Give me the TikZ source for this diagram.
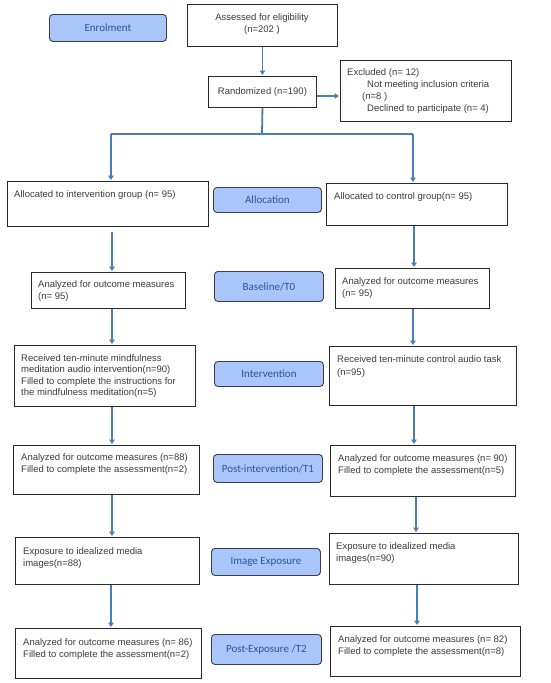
\documentclass[tikz,border=0pt]{standalone}
\usepackage{fontspec}
\setmainfont{Liberation Sans}
\newfontfamily\stagefont{Carlito}
\usetikzlibrary{arrows.meta,calc}
\definecolor{textgray}{RGB}{60,60,60}
\definecolor{boxline}{RGB}{40,40,40}
\definecolor{stagefill}{RGB}{168,198,250}
\definecolor{stageline}{RGB}{60,62,75}
\definecolor{stagetext}{RGB}{47,84,150}
\definecolor{arrowblue}{RGB}{74,126,187}
\tikzset{
  box/.style={draw=boxline, line width=0.9pt, fill=white, anchor=north west, inner sep=0pt},
  stage/.style={draw=stageline, line width=0.9pt, fill=stagefill, rounded corners=3.5pt, anchor=north west, inner sep=0pt,
    font=\stagefont\fontsize{11}{13}\selectfont, text=stagetext},
  txt/.style={anchor=north west, inner sep=0pt, align=left, font=\fontsize{9.5}{11.7}\selectfont, text=textgray},
  ln/.style={draw=arrowblue, line width=1.8pt},
  arr/.style={ln, -{Triangle[width=5.5pt,length=4.5pt]}, shorten >=1pt},
}
\begin{document}
\begin{tikzpicture}[x=1pt,y=-1pt]
\useasboundingbox[fill=white] (0,0) rectangle (550,683);

% ---- top part
\node[stage, minimum width=117pt, minimum height=27pt] (enrol) at (49,14) {Enrolment};
\node[box, minimum width=150pt, minimum height=42pt] (assess) at (187,4) {};
\node[txt, anchor=north, align=center] (assess-t) at (262,13.5) {Assessed for eligibility\\(n=202 )};
\node[box, minimum width=108pt, minimum height=31pt, font=\fontsize{9.5}{11.7}\selectfont, text=textgray] (rand) at (208,76) {Randomized (n=190)};
\node[box, minimum width=171pt, minimum height=61pt] (excl) at (340,60) {};
\node[txt, font=\fontsize{9.5}{11.9}\selectfont] (excl-t) at (347,68.5) {Excluded (n= 12)\\
\hspace*{20pt}Not meeting inclusion criteria\\
\hspace*{15pt}(n=8 )\\
\hspace*{20pt}Declined to participate (n= 4)};

% ---- allocation
\node[box, minimum width=201pt, minimum height=45pt] (allocI) at (7,181) {};
\node[txt] (allocI-t) at (14,190.5) {Allocated to intervention group (n= 95)};
\node[stage, minimum width=108pt, minimum height=25pt] (allocS) at (213,187) {Allocation};
\node[box, minimum width=181pt, minimum height=42pt] (allocC) at (326,183) {};
\node[txt] (allocC-t) at (334,192.5) {Allocated to control group(n= 95)};

% ---- baseline
\node[box, minimum width=154pt, minimum height=36pt] (baseI) at (31,272) {};
\node[txt] (baseI-t) at (38,280.5) {Analyzed for outcome measures\\(n= 95)};
\node[stage, minimum width=109pt, minimum height=30pt] (baseS) at (214,271) {Baseline/T0};
\node[box, minimum width=154pt, minimum height=40pt] (baseC) at (335,268) {};
\node[txt] (baseC-t) at (342,277.5) {Analyzed for outcome measures\\(n= 95)};

% ---- intervention
\node[box, minimum width=181pt, minimum height=61pt] (intI) at (14,345) {};
\node[txt, font=\fontsize{9.5}{11.4}\selectfont] (intI-t) at (21,354.5) {Received ten-minute mindfulness\\meditation audio intervention(n=90)\\Filled to complete the instructions for\\the mindfulness meditation(n=5)};
\node[stage, minimum width=109pt, minimum height=25pt] (intS) at (214,361) {Intervention};
\node[box, minimum width=187pt, minimum height=59pt] (intC) at (329,346) {};
\node[txt, font=\fontsize{9.5}{12.6}\selectfont] (intC-t) at (337,355.5) {Received ten-minute control audio task\\(n=95)};

% ---- post-intervention
\node[box, minimum width=186pt, minimum height=49pt] (t1I) at (13,445) {};
\node[txt] (t1I-t) at (21,453.5) {Analyzed for outcome measures (n=88)\\Filled to complete the assessment(n=2)};
\node[stage, minimum width=109pt, minimum height=28pt] (t1S) at (213,454) {Post-intervention/T1};
\node[box, minimum width=185pt, minimum height=51pt] (t1C) at (330,445) {};
\node[txt] (t1C-t) at (338,454.5) {Analyzed for outcome measures (n= 90)\\Filled to complete the assessment(n=5)};

% ---- image exposure
\node[box, minimum width=184pt, minimum height=47pt] (expI) at (15,537) {};
\node[txt] (expI-t) at (23,547.5) {Exposure to idealized media\\images(n=88)};
\node[stage, minimum width=109pt, minimum height=27pt] (expS) at (211,548) {Image Exposure};
\node[box, minimum width=189pt, minimum height=51pt] (expC) at (329,533) {};
\node[txt] (expC-t) at (336,542.5) {Exposure to idealized media\\images(n=90)};

% ---- post-exposure
\node[box, minimum width=186pt, minimum height=50pt] (t2I) at (15,628) {};
\node[txt] (t2I-t) at (23,638.5) {Analyzed for outcome measures (n= 86)\\Filled to complete the assessment(n=2)};
\node[stage, minimum width=110pt, minimum height=30pt] (t2S) at (211,634) {Post-Exposure /T2};
\node[box, minimum width=190pt, minimum height=50pt] (t2C) at (330,626) {};
\node[txt] (t2C-t) at (338,635.5) {Analyzed for outcome measures (n= 82)\\Filled to complete the assessment(n=8)};

% ---- connectors
\coordinate (r96) at (0,96);
\coordinate (split) at (262,134);
\coordinate (sL) at (111,134);
\coordinate (sR) at (413,134);
\coordinate (cL) at (112,0);
\coordinate (cL2) at (111,0);
\coordinate (cR1) at (414,0);
\coordinate (cR2) at (413,0);
\coordinate (cR3) at (416,0);
\coordinate (cR4) at (417,0);

\draw[arr] (assess.south) -- (rand.north);
\draw[arr] (rand.east |- r96) -- (excl.west |- r96);
\draw[ln] (rand.south) -- (split);
\draw[ln] (sL) -- (sR);
\draw[arr] (sL) -- (sL |- allocI.north);
\draw[arr] (sR) -- (sR |- allocC.north);

\draw[arr, shorten <=5pt] (allocI.south -| cL) -- (baseI.north -| cL);
\draw[arr] (baseI.south -| cL) -- (intI.north -| cL);
\draw[arr] (intI.south -| cL) -- (t1I.north -| cL);
\draw[arr] (t1I.south -| cL) -- (expI.north -| cL);
\draw[arr] (expI.south -| cL2) -- (t2I.north -| cL2);

\draw[arr] (allocC.south -| cR1) -- (baseC.north -| cR1);
\draw[arr] (baseC.south -| cR2) -- (intC.north -| cR2);
\draw[arr] (intC.south -| cR1) -- (t1C.north -| cR1);
\draw[arr] (t1C.south -| cR3) -- (expC.north -| cR3);
\draw[arr] (expC.south -| cR4) -- (t2C.north -| cR4);
\end{tikzpicture}
\end{document}
